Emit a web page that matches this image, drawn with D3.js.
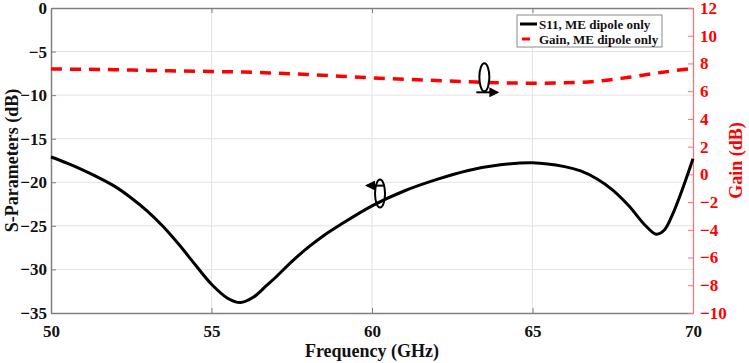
<!DOCTYPE html>
<html>
<head>
<meta charset="utf-8">
<script src="https://cdn.jsdelivr.net/npm/d3@7"></script>
<style>
  body { margin: 0; background: #fff; }
  text { font-family: "Liberation Serif", "Times New Roman", serif; font-weight: bold; }
</style>
</head>
<body>
<svg id="chart" width="749" height="363"></svg>
<script>
// S11 (dB)
const s11Freq = [50, 50.5, 51, 51.5, 52, 52.5, 53, 53.5, 54, 54.5, 55, 55.5, 55.9, 56.3, 56.7, 57, 57.5, 58, 58.5, 59, 60, 61, 62, 63, 64, 65, 66, 66.5, 67, 67.5, 68, 68.5, 68.85, 69.1, 69.35, 69.65, 70];
const s11Vals = [-17.1, -17.8, -18.6, -19.5, -20.5, -21.8, -23.3, -25.1, -27.2, -29.5, -31.7, -33.3, -33.8, -33.2, -31.9, -30.9, -29.1, -27.5, -26.1, -24.9, -22.7, -21.0, -19.7, -18.65, -18.0, -17.75, -18.2, -18.7, -19.6, -20.9, -22.7, -24.9, -25.95, -25.5, -23.8, -21.0, -17.3];

// Gain (dB)
const gainFreq = [50, 51, 52, 53, 54, 55, 56, 57, 58, 59, 60, 61, 62, 63, 64, 65, 66, 67, 68, 69, 70];
const gainVals = [7.6, 7.58, 7.55, 7.5, 7.46, 7.42, 7.38, 7.3, 7.2, 7.08, 6.96, 6.86, 6.77, 6.68, 6.6, 6.58, 6.6, 6.72, 7.0, 7.35, 7.65];

const xTicks = [50, 55, 60, 65, 70];
const yLeftTicks = [0, -5, -10, -15, -20, -25, -30, -35];
const yRightTicks = [12, 10, 8, 6, 4, 2, 0, -2, -4, -6, -8, -10];
const legendLabels = ["S11, ME dipole only", "Gain, ME dipole only"];

const svg = d3.select("#chart");
const pLeft = 51, pRight = 693, pTop = 8, pBottom = 313;

const x = d3.scaleLinear().domain([50, 70]).range([pLeft, pRight]);
const yL = d3.scaleLinear().domain([-35, 0]).range([pBottom, pTop]);
const yR = d3.scaleLinear().domain([-10, 12]).range([pBottom, pTop]);

// grid
const grid = svg.append("g").attr("stroke", "#e3e3e3").attr("stroke-width", 1);
grid.selectAll(".gx").data(xTicks.slice(1, -1)).join("line")
    .attr("x1", d => x(d)).attr("x2", d => x(d))
    .attr("y1", pTop).attr("y2", pBottom);
grid.selectAll(".gy").data(yLeftTicks.slice(1, -1)).join("line")
    .attr("x1", pLeft).attr("x2", pRight)
    .attr("y1", d => yL(d)).attr("y2", d => yL(d));

// axes
const axisGray = "#7f7f7f";
const gx = svg.append("g").attr("transform", `translate(0,${pBottom})`)
    .call(d3.axisBottom(x).tickValues(xTicks).tickSizeInner(-5).tickSizeOuter(0).tickPadding(9));
const gxTop = svg.append("g").attr("transform", `translate(0,${pTop})`)
    .call(d3.axisTop(x).tickValues(xTicks).tickSizeInner(-5).tickSizeOuter(0).tickFormat(""));
const gyL = svg.append("g").attr("transform", `translate(${pLeft},0)`)
    .call(d3.axisLeft(yL).tickValues(yLeftTicks).tickSizeInner(-5).tickSizeOuter(0).tickPadding(4));
const gyR = svg.append("g").attr("transform", `translate(${pRight},0)`)
    .call(d3.axisRight(yR).tickValues(yRightTicks).tickSizeInner(-5).tickSizeOuter(0).tickPadding(7));

[gx, gxTop, gyL, gyR].forEach(g => g.attr("font-family", null).attr("font-size", null));
[gx, gxTop, gyL].forEach(g => {
    g.select(".domain").attr("stroke", axisGray).attr("stroke-width", 1.5);
    g.selectAll(".tick line").attr("stroke", axisGray);
    g.selectAll("text").attr("fill", "#111").style("font-size", "17px");
});
gyR.select(".domain").attr("stroke", "#ff7070").attr("stroke-width", 1.2);
gyR.selectAll(".tick line").attr("stroke", "#ff7070");
gyR.selectAll("text").attr("fill", "#ff0000").style("font-size", "17px");
gx.selectAll(".tick text").attr("dy", "0.9em");

// axis titles
svg.append("text").attr("x", (pLeft + pRight) / 2).attr("y", 357)
    .attr("text-anchor", "middle").attr("font-size", 18).attr("fill", "#111")
    .text("Frequency (GHz)");
svg.append("text").attr("transform", `translate(18,${(pTop + pBottom) / 2}) rotate(-90)`)
    .attr("text-anchor", "middle").attr("font-size", 18).attr("fill", "#111")
    .text("S-Parameters (dB)");
svg.append("text").attr("transform", `translate(742,${(pTop + pBottom) / 2}) rotate(-90)`)
    .attr("text-anchor", "middle").attr("font-size", 18).attr("fill", "#ff0000")
    .text("Gain (dB)");

// curves
const s11Data = s11Freq.map((f, i) => ({f, v: s11Vals[i]}));
const gainData = gainFreq.map((f, i) => ({f, v: gainVals[i]}));

svg.append("path").datum(gainData)
    .attr("fill", "none").attr("stroke", "#ff0000").attr("stroke-width", 3.5)
    .attr("stroke-dasharray", "11,8")
    .attr("d", d3.line().x(d => x(d.f)).y(d => yR(d.v)).curve(d3.curveCatmullRom.alpha(0.5)));

svg.append("path").datum(s11Data)
    .attr("fill", "none").attr("stroke", "#000").attr("stroke-width", 3)
    .attr("d", d3.line().x(d => x(d.f)).y(d => yL(d.v)).curve(d3.curveCatmullRom.alpha(0.5)));

// arrow markers
const defs = svg.append("defs");
defs.append("marker").attr("id", "arrow").attr("viewBox", "0 0 10 10")
    .attr("refX", 8).attr("refY", 5).attr("markerWidth", 5).attr("markerHeight", 5)
    .attr("orient", "auto-start-reverse")
    .append("path").attr("d", "M0,0 L10,5 L0,10 z").attr("fill", "#000");

// ellipse annotations (in data coords)
function annot(cx, cy, dir) {
    const g = svg.append("g").attr("fill", "none").attr("stroke", "#000").attr("stroke-width", 2);
    g.append("ellipse").attr("cx", cx).attr("cy", cy).attr("rx", 5).attr("ry", 14);
    if (dir > 0) {
        g.append("line").attr("x1", cx - 8).attr("y1", cy + 15).attr("x2", cx + 13).attr("y2", cy + 15)
            .attr("marker-end", "url(#arrow)");
    } else {
        g.append("line").attr("x1", cx + 5).attr("y1", cy - 8).attr("x2", cx - 13).attr("y2", cy - 8)
            .attr("marker-end", "url(#arrow)");
    }
}
annot(x(63.5), yR(7.0), 1);
annot(x(60.25), yL(-21.3), -1);

// legend
const lg = svg.append("g").attr("transform", "translate(517,15)");
lg.append("rect").attr("width", 145).attr("height", 32)
    .attr("fill", "#fff").attr("stroke", "#8a8a8a").attr("stroke-width", 1);
lg.append("line").attr("x1", 3).attr("x2", 20).attr("y1", 9).attr("y2", 9)
    .attr("stroke", "#000").attr("stroke-width", 3);
lg.append("line").attr("x1", 5).attr("x2", 13).attr("y1", 24).attr("y2", 24)
    .attr("stroke", "#ff0000").attr("stroke-width", 3);
lg.selectAll(".lt").data(legendLabels).join("text")
    .attr("x", 22).attr("y", (d, i) => 13.5 + i * 15)
    .attr("font-size", 13).attr("fill", "#111")
    .text(d => d);
</script>
</body>
</html>
